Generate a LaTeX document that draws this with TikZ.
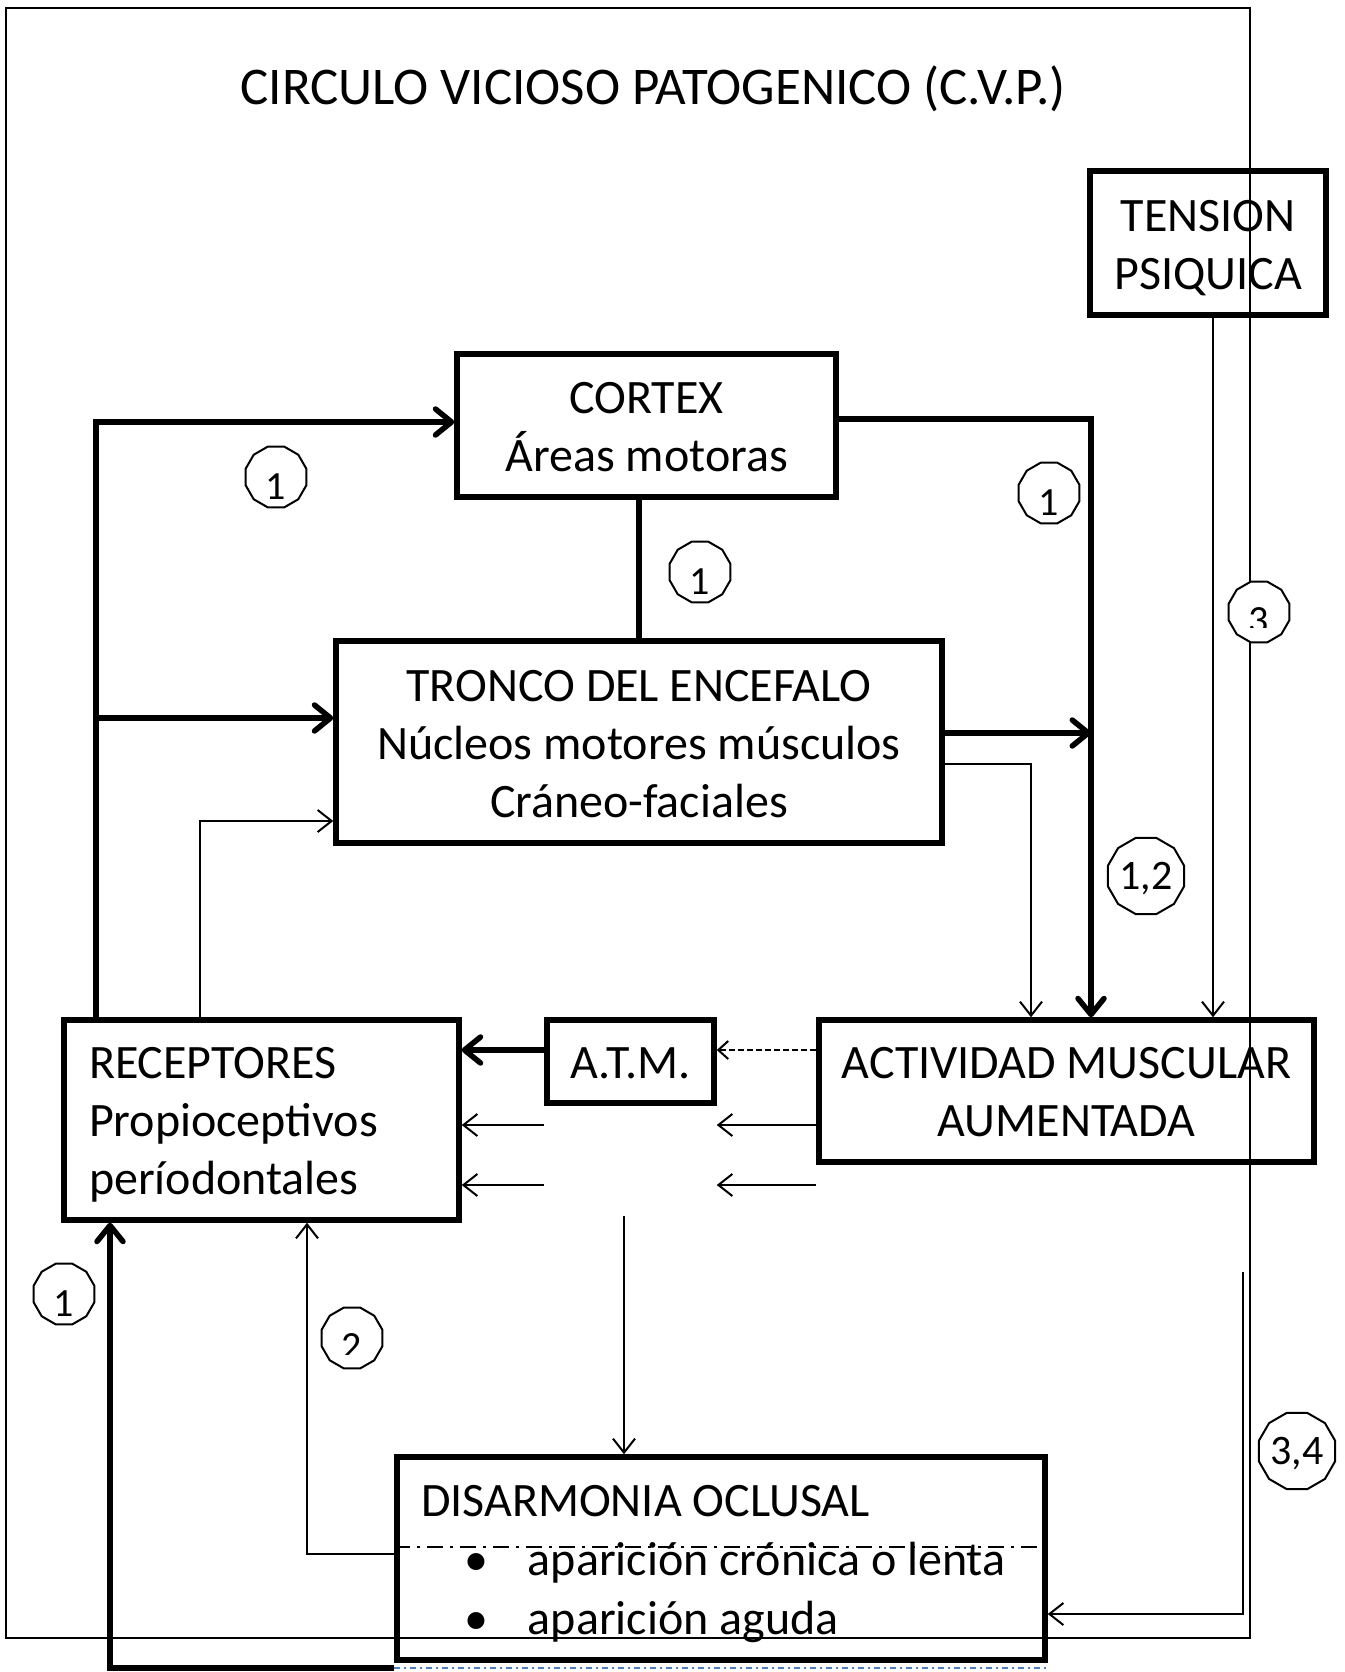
\documentclass[tikz,border=0pt]{standalone}
\usepackage{fontspec}
\setmainfont{Carlito}
\usetikzlibrary{arrows.meta,shapes.geometric}
\definecolor{blueline}{HTML}{4F81BD}
\newcommand{\lift}[1]{\rule{0pt}{#1}}
\begin{document}
\begin{tikzpicture}[x=1pt,y=-1pt,
  bx/.style={draw,line width=5.5pt,inner sep=0pt,font=\fontsize{48}{58}\selectfont,align=center},
  thn/.style={line width=2pt},
  thk/.style={line width=5.5pt},
  arr/.style={-{Straight Barb[length=14pt,width=22pt]}},
  arrk/.style={-{Straight Barb[length=16pt,width=26pt,round]}},
  arrd/.style={-{Straight Barb[length=10pt,width=18pt]}},
  nbox/.style={draw,fill=white,regular polygon,regular polygon sides=12,minimum size=63pt,inner sep=0pt,line width=2pt},
  nboxb/.style={nbox,minimum size=79pt},
  ntx/.style={inner sep=0pt,font=\fontsize{40}{42}\selectfont},
  ntxb/.style={inner sep=0pt,font=\fontsize{42}{44}\selectfont},
]
\useasboundingbox (0,0) rectangle (1344,1672);
% outer frame
\draw[line width=2.2pt] (6,8) rectangle (1250,1638);
% title
\node[font=\fontsize{53}{60}\selectfont,inner sep=0pt] (tt) at (653,89) {CIRCULO VICIOSO PATOGENICO (C.V.P.)};
% boxes
\node[bx,minimum width=236pt,minimum height=144pt] (ten) at (1208,243) {\lift{41pt}TENSION\\PSIQUICA};
\node[bx,minimum width=379pt,minimum height=143pt] (cor) at (646.5,425.5) {\lift{35pt}CORTEX\\Áreas motoras};
\node[bx,minimum width=606pt,minimum height=202pt] (tro) at (639,742) {\lift{35pt}TRONCO DEL ENCEFALO\\Núcleos motores músculos\\Cráneo-faciales};
\node[bx,minimum width=395pt,minimum height=200pt,align=flush left,text width=345pt] (rec) at (261.5,1120) {\lift{41pt}RECEPTORES\\Propioceptivos\\períodontales};
\node[bx,minimum width=167pt,minimum height=83pt] (atm) at (630.5,1061.5) {\lift{35pt}A.T.M.};
\node[bx,minimum width=495pt,minimum height=142pt] (act) at (1066.5,1091) {\lift{33pt}ACTIVIDAD MUSCULAR\\AUMENTADA};
\node[bx,minimum width=648pt,minimum height=203pt,align=flush left,text width=600pt,font=\fontsize{48}{59}\selectfont] (dis) at (721,1558.5) {\lift{43pt}DISARMONIA OCLUSAL\\\hspace*{43pt}\makebox[64pt][l]{•}aparición crónica o lenta\\\hspace*{43pt}\makebox[64pt][l]{•}aparición aguda};
% routing coordinates
\coordinate (cL) at (96,0);
\coordinate (cL2) at (200,0);
\coordinate (cL3) at (307,0);
\coordinate (cL4) at (110,0);
\coordinate (cD) at (624,0);
\coordinate (cR) at (1091,0);
\coordinate (cR2) at (1031,0);
\coordinate (cT) at (1213,0);
\coordinate (r1) at (0,422);
\coordinate (r2) at (0,718);
\coordinate (r3) at (0,821);
\coordinate (r4) at (0,419);
\coordinate (r5) at (0,733);
\coordinate (r6) at (0,764);
\coordinate (r7) at (0,1050);
\coordinate (r8) at (0,1125);
\coordinate (r9) at (0,1185);
\coordinate (r10) at (0,1554);
\coordinate (r11) at (0,1668);
\coordinate (r12) at (0,1614);
\coordinate (rdd) at (0,1547);
\coordinate (vtop) at (624,1216);
\coordinate (rtop) at (1243,1272);
% connectors
\draw[thk,arrk] (rec.north -| cL) |- (cor.west |- r1);
\draw[thk,arrk] (cL |- r2) -- (tro.west |- r2);
\draw[thn,arr] (rec.north -| cL2) |- (tro.west |- r3);
\draw[thk] (cor.south -| tro.north) -- (tro.north);
\draw[thk,arrk] (cor.east |- r4) -| (act.north -| cR);
\draw[thk,arrk] (tro.east |- r5) -- (cR |- r5);
\draw[thn,arr] (tro.east |- r6) -| (act.north -| cR2);
\draw[thn,arr] (ten.south -| cT) -- (act.north -| cT);
\draw[thn,arrd,dash pattern=on 6pt off 3pt] (act.west |- r7) -- (atm.east |- r7);
\draw[thk,arrk] (atm.west |- r7) -- (rec.east |- r7);
\draw[thn,arr] (act.west |- r8) -- (atm.east |- r8);
\draw[thn,arr] (atm.west |- r8) -- (rec.east |- r8);
\draw[thn,arr] (act.west |- r9) -- (atm.east |- r9);
\draw[thn,arr] (atm.west |- r9) -- (rec.east |- r9);
\draw[thn,arr] (vtop) -- (dis.north -| cD);
\draw[thn,arr] (dis.west |- r10) -| (rec.south -| cL3);
\draw[thk,arrk] (dis.west |- r11) -| (rec.south -| cL4);
\draw[line width=2pt,blueline,dash pattern=on 6pt off 4pt on 2pt off 4pt] (dis.west |- r11) -- (dis.east |- r11);
\draw[thn,arr] (rtop) |- (dis.east |- r12);
\draw[thn,dash pattern=on 16pt off 7pt on 3pt off 7pt] (dis.west |- rdd) -- (dis.east |- rdd);
% numbered markers
\node[nbox] (c1a) at (276,477) {};
\node[ntx,anchor=north] (t1a) at ([yshift=3pt]c1a.center) {1};
\node[nbox] (c1b) at (1049,493) {};
\node[ntx,anchor=north] (t1b) at ([yshift=3pt]c1b.center) {1};
\node[nbox] (c1c) at (700,572) {};
\node[ntx,anchor=north] (t1c) at ([yshift=3pt]c1c.center) {1};
\node[nbox] (c1d) at (64,1294) {};
\node[ntx,anchor=north] (t1d) at ([yshift=3pt]c1d.center) {1};
\node[nbox] (c3) at (1259,612) {};
\begin{scope}
\clip (1228,580) rectangle (1290,627);
\node[ntx,anchor=north] (t3) at ([yshift=5pt]c3.center) {3};
\end{scope}
\node[nbox] (c2) at (352,1338) {};
\begin{scope}
\clip (321,1300) rectangle (383,1354);
\node[ntx,anchor=north] (t2) at ([yshift=5pt]c2.center) {2};
\end{scope}
\node[nboxb] (c12) at (1146,876) {};
\node[ntxb] (t12) at ([yshift=-3pt]c12.center) {1,2};
\node[nboxb] (c34) at (1297,1451) {};
\node[ntxb] (t34) at ([yshift=-3pt]c34.center) {3,4};
\end{tikzpicture}
\end{document}
